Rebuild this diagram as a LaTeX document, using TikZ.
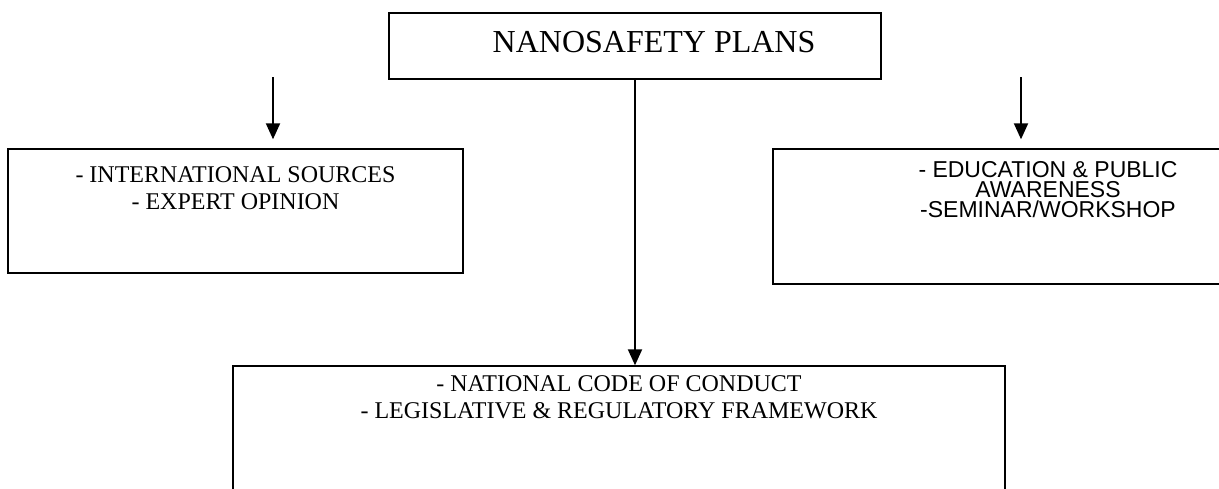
\documentclass[tikz,border=0pt]{standalone}
\usepackage{fontspec}
\setmainfont{Liberation Serif}
\newfontfamily\arialfont{Liberation Sans}
\usetikzlibrary{positioning}
\usetikzlibrary{arrows.meta}

\tikzset{
  plainbox/.style={draw, line width=.7pt, inner sep=0pt},
  boxtext/.style={inner sep=0pt, align=center, font=\fontsize{12}{13.5}\selectfont},
  flow/.style={line width=1pt, -{Triangle[width=7pt,length=8pt]}},
}

\begin{document}
\begin{tikzpicture}[x=.5pt,y=-.5pt]
\clip (0,0) rectangle (1219,488);

% plans
\node (plans) [plainbox, minimum width=246pt, minimum height=33pt] at (635,46) {};
\node (planstxt) [inner sep=0pt, right=52pt of plans.west, yshift=2pt, font=\fontsize{16}{19}\selectfont] {NANOSAFETY PLANS};

% sources
\node (sources) [plainbox, minimum width=227.5pt, minimum height=62pt] at (235.5,211) {};
\node (sourcestxt) [boxtext, below=9pt of sources.north] {- INTERNATIONAL SOURCES\\- EXPERT OPINION};

% education
\node (edu) [plainbox, minimum width=275pt, minimum height=67.5pt] at (1048,216.5) {};
\node (edutxt) [boxtext, below=6.5pt of edu.north, font=\arialfont\fontsize{11.5}{10}\selectfont] {- EDUCATION \& PUBLIC\\AWARENESS\\-SEMINAR/WORKSHOP};

% code
\node (code) [plainbox, minimum width=386pt, minimum height=80pt] at (619,446) {};
\node (codetxt) [boxtext, below=4.75pt of code.north] {- NATIONAL CODE OF CONDUCT\\- LEGISLATIVE \& REGULATORY FRAMEWORK};

\coordinate (lefttop) at (273,77);
\coordinate (righttop) at (1021,77);
\coordinate (trunk) at (635,0);

\draw [flow, shorten >=4.5pt] (lefttop) -- (lefttop |- sources.north);
\draw [flow, shorten >=4.5pt] (righttop) -- (righttop |- edu.north);
\draw [flow] (trunk |- plans.south) -- (trunk |- code.north);
\end{tikzpicture}
\end{document}
